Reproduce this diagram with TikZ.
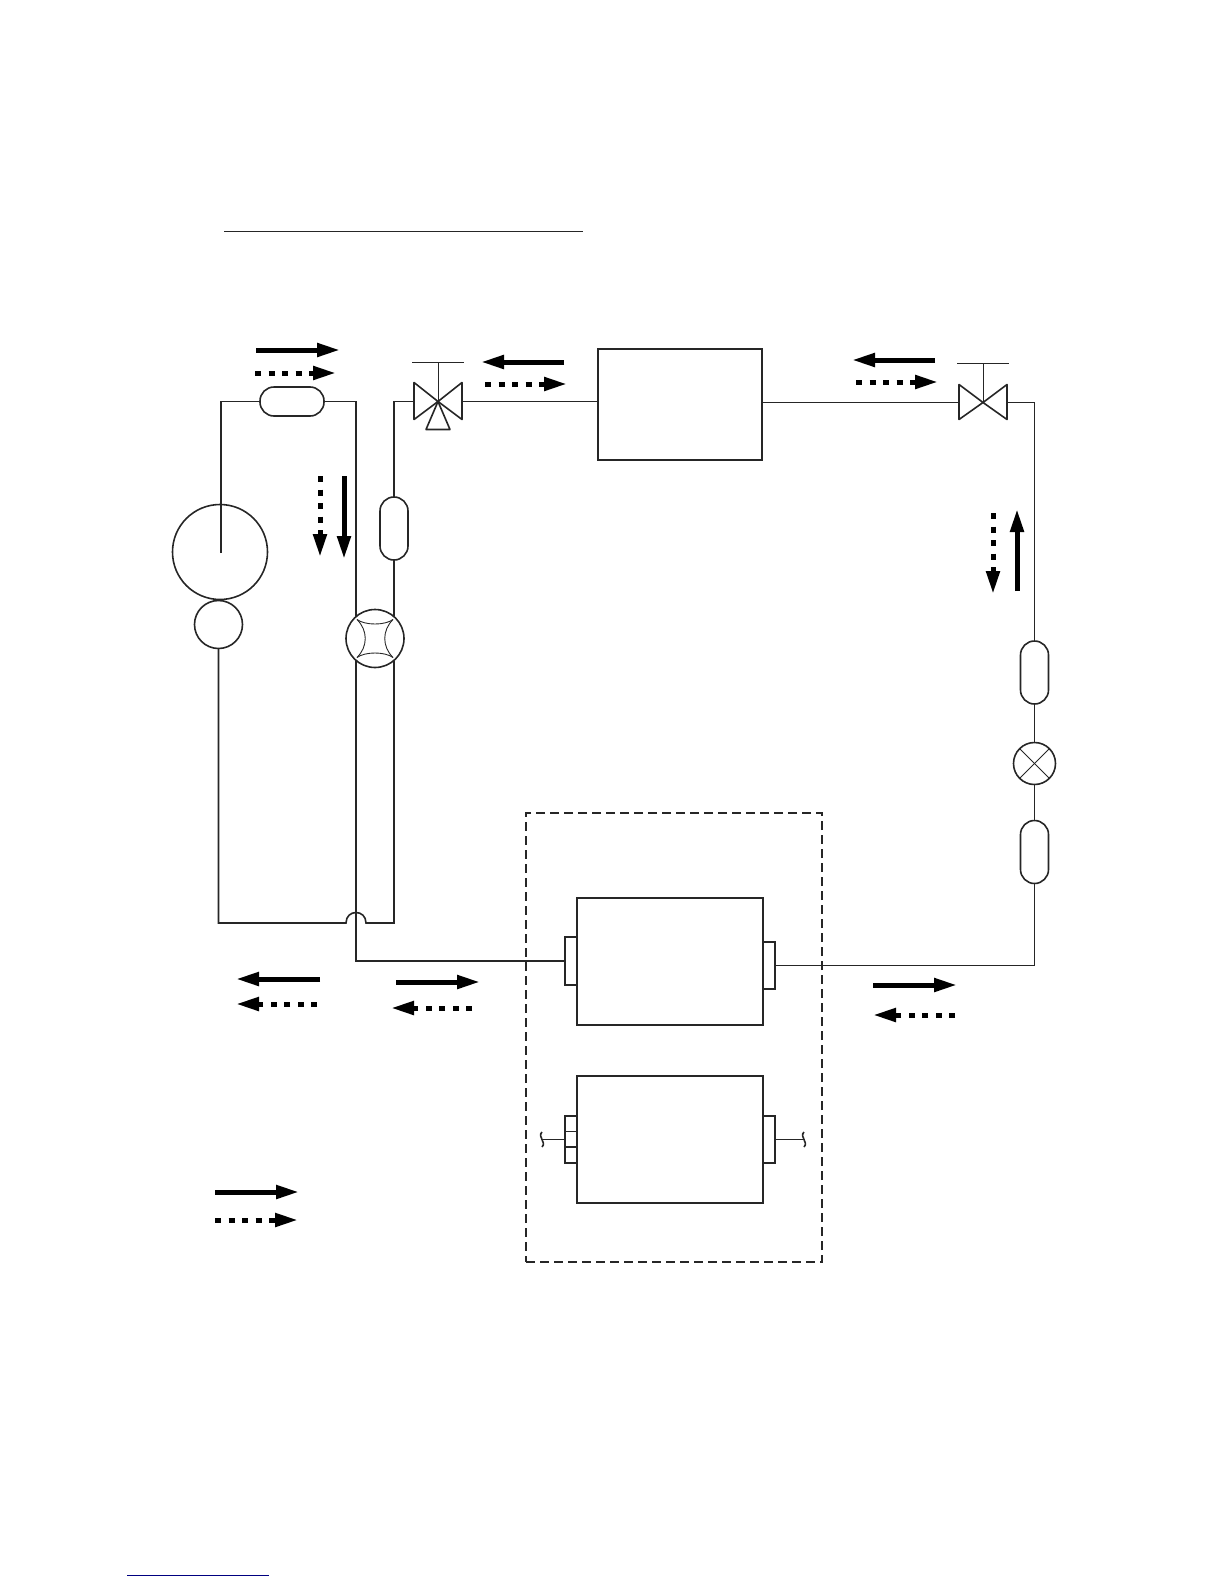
\documentclass[tikz,border=0pt]{standalone}
\usepackage{tikz}
\usetikzlibrary{arrows.meta}

\tikzset{
  pipe/.style={line width=1.6pt, black!85},
  thinpipe/.style={line width=0.9pt, black!85},
  part/.style={draw=black!85, line width=1.6pt, inner sep=0pt, outer sep=0pt},
  capsule/.style={part, rounded corners=14pt},
  roundpart/.style={part, circle},
  flowsolid/.style={line width=5pt, -{Triangle[length=23pt,width=13pt]}},
  flowdash/.style={line width=5pt, dash pattern=on 6pt off 7.5pt, -{Triangle[length=23pt,width=13pt]}}
}

\begin{document}
\begin{tikzpicture}[x=1pt,y=-1pt]
\useasboundingbox (0,0) rectangle (1224,1584);

% Nodes
\node[capsule, minimum width=64pt, minimum height=29pt] (capsulea) at (292,401.5) {};
\node[capsule, minimum width=28pt, minimum height=63pt] (capsuleb) at (394,528.5) {};
\node[capsule, minimum width=28pt, minimum height=63pt] (capsulec) at (1034.5,672.5) {};
\node[capsule, minimum width=28pt, minimum height=63pt] (capsuled) at (1034.5,852) {};
\node[roundpart, minimum size=95pt] (accum) at (220,552) {};
\node[roundpart, minimum size=48pt] (motor) at (218.5,624.5) {};
\node[roundpart, minimum size=58pt] (fourway) at (375,638.5) {};
\node[roundpart, minimum size=42pt] (expansion) at (1034.5,763.5) {};
\node[part, minimum width=164pt, minimum height=111.5pt] (condenser) at (680,404.5) {};
\node[part, minimum width=186pt, minimum height=127pt] (coilup) at (670,961.5) {};
\node[part, minimum width=186pt, minimum height=127pt] (coillow) at (670,1139.5) {};
\node[part, minimum width=12pt, minimum height=48pt] (stuba) at (571,961) {};
\node[part, minimum width=12pt, minimum height=47pt] (stubb) at (769,965.5) {};
\node[part, minimum width=12pt, minimum height=47pt] (stubc) at (571,1139.5) {};
\node[part, minimum width=12pt, minimum height=47pt] (stubd) at (769,1139.5) {};
\node[part, dash pattern=on 9pt off 5pt, minimum width=296pt, minimum height=449pt] (unitbox) at (674,1037.5) {};

% points on the lines
\coordinate (suction) at (221,553);
\coordinate (valvea) at (438,401.5);
\coordinate (valveal) at (414,401.5);
\coordinate (valvear) at (462,401.5);
\coordinate (valveb) at (983,402.5);
\coordinate (valvebl) at (959,402.5);
\coordinate (valvebr) at (1007,402.5);
\coordinate (condl) at (598,401.5);
\coordinate (condr) at (762,402.5);
\coordinate (crossr) at (366,923);
\coordinate (crossl) at (346,923);
\coordinate (taila) at (541,1139.5);
\coordinate (tailb) at (803,1139.5);
\coordinate (titlea) at (224,231);
\coordinate (titleb) at (583,231);
\coordinate (linka) at (127,1575);
\coordinate (linkb) at (269,1575);

% edges, each separately
\draw[pipe] (suction) |- (capsulea.west);
\draw[pipe] (capsulea.east) -| (fourway.131);
\draw[pipe] (fourway.229) |- (stuba.west);
\draw[pipe] (capsuleb.north) |- (valveal);
\draw[pipe] (capsuleb.south) -- (fourway.49);
\draw[pipe] (fourway.311) |- (crossr) .. controls (366,909) and (346,909) .. (crossl) -| (motor.south);
\draw[pipe] (valvear) -- (condl);
\draw[pipe] (condr) -- (valvebl);
\draw[pipe] (valvebr) -| (capsulec.north);
\draw[pipe] (capsulec.south) -- (expansion.north);
\draw[pipe] (expansion.south) -- (capsuled.north);
\draw[pipe] (capsuled.south) |- (stubb.east);
\draw[thinpipe] (stubc.west) -- (taila);
\draw[thinpipe] (stubd.east) -- (tailb);
\draw[pipe] (542,1132) .. controls (537,1137) and (547,1142) .. (542,1147);
\draw[pipe] (804,1132) .. controls (799,1137) and (809,1142) .. (804,1147);
\draw[thinpipe] (565,1131) -- (577,1131);
\draw[pipe] (565,1147) -- (577,1147);

% three way valve
\draw[pipe, line join=round, shift={(valvea)}] (0,0) -- (-24,-19) -- (-24,18) -- cycle;
\draw[pipe, line join=round, shift={(valvea)}] (0,0) -- (24,-19) -- (24,18) -- cycle;
\draw[pipe, line join=round, shift={(valvea)}] (0,0) -- (-12,28) -- (12,28) -- cycle;
\draw[thinpipe, shift={(valvea)}] (0,0) -- (0,-39);
\draw[thinpipe, shift={(valvea)}] (-26,-39) -- (26,-39);

% two way valve
\draw[pipe, line join=round, shift={(valveb)}] (0,0) -- (-24,-18) -- (-24,17) -- cycle;
\draw[pipe, line join=round, shift={(valveb)}] (0,0) -- (24,-18) -- (24,17) -- cycle;
\draw[thinpipe, shift={(valveb)}] (0,0) -- (0,-39);
\draw[thinpipe, shift={(valveb)}] (-26,-39) -- (26,-39);

% inside of the round parts
\draw[thinpipe, shift={(fourway)}] (-18,-19) .. controls (-10,-13) and (10,-13) .. (18,-19);
\draw[thinpipe, shift={(fourway)}] (18,-19) .. controls (7,-8) and (7,8) .. (18,19);
\draw[thinpipe, shift={(fourway)}] (18,19) .. controls (10,13) and (-10,13) .. (-18,19);
\draw[thinpipe, shift={(fourway)}] (-18,19) .. controls (-7,8) and (-7,-8) .. (-18,-19);
\draw[thinpipe] (expansion.45) -- (expansion.225);
\draw[thinpipe] (expansion.135) -- (expansion.315);

% flow arrows
\coordinate (fa) at (256,350); \coordinate (fb) at (340,350);
\coordinate (ga) at (255,373); \coordinate (gb) at (336,373);
\coordinate (fc) at (344,476); \coordinate (fd) at (344,559);
\coordinate (gc) at (320,476); \coordinate (gd) at (320,557);
\coordinate (fe) at (564,362); \coordinate (ff) at (481,362);
\coordinate (ge) at (485,384); \coordinate (gf) at (567,384);
\coordinate (fg) at (935,360); \coordinate (fh) at (852,360);
\coordinate (gg) at (856,382); \coordinate (gh) at (938,382);
\coordinate (fi) at (1017,591); \coordinate (fj) at (1017,509);
\coordinate (gi) at (993,513); \coordinate (gj) at (993,594);
\coordinate (fk) at (320,979); \coordinate (fl) at (236,979);
\coordinate (gk) at (317,1004); \coordinate (gl) at (236,1004);
\coordinate (fm) at (396,982); \coordinate (fn) at (480,982);
\coordinate (gm) at (472,1008); \coordinate (gn) at (391,1008);
\coordinate (fo) at (873,985); \coordinate (fp) at (957,985);
\coordinate (go) at (955,1015); \coordinate (gp) at (873,1015);
\coordinate (fq) at (215,1192); \coordinate (fr) at (299,1192);
\coordinate (gq) at (215,1220); \coordinate (gr) at (298,1220);

\draw[flowsolid] (fa) -- (fb);
\draw[flowdash] (ga) -- (gb);
\draw[flowsolid] (fc) -- (fd);
\draw[flowdash] (gc) -- (gd);
\draw[flowsolid] (fe) -- (ff);
\draw[flowdash] (ge) -- (gf);
\draw[flowsolid] (fg) -- (fh);
\draw[flowdash] (gg) -- (gh);
\draw[flowsolid] (fi) -- (fj);
\draw[flowdash] (gi) -- (gj);
\draw[flowsolid] (fk) -- (fl);
\draw[flowdash] (gk) -- (gl);
\draw[flowsolid] (fm) -- (fn);
\draw[flowdash] (gm) -- (gn);
\draw[flowsolid] (fo) -- (fp);
\draw[flowdash] (go) -- (gp);
\draw[flowsolid] (fq) -- (fr);
\draw[flowdash] (gq) -- (gr);

% rules
\draw[thinpipe] (titlea) -- (titleb);
\draw[line width=1pt, blue!50!black] (linka) -- (linkb);
\end{tikzpicture}
\end{document}
